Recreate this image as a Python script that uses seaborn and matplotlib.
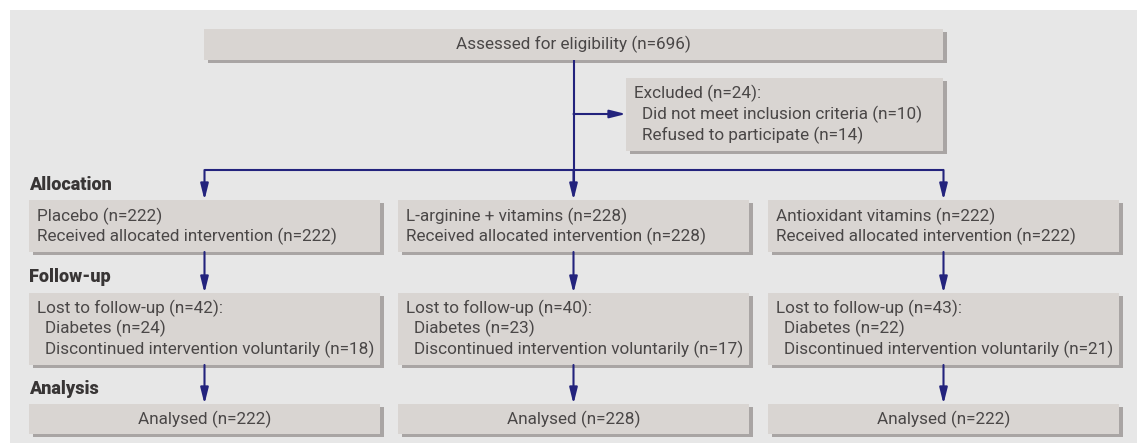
import matplotlib
matplotlib.use("Agg")
import matplotlib.pyplot as plt
import seaborn as sns
from matplotlib.patches import Rectangle

sns.set_theme(style="white")
plt.rcParams['font.family'] = ['Roboto', 'DejaVu Sans']

# data
assessed = 696
excluded = [10, 14]
excluded_reasons = ['Did not meet inclusion criteria', 'Refused to participate']
arms = ['Placebo', 'L-arginine + vitamins', 'Antioxidant vitamins']
allocated = [222, 228, 222]
received = [222, 228, 222]
lost_diabetes = [24, 23, 22]
lost_discontinued = [18, 17, 21]
analysed = [222, 228, 222]
stages = ['Allocation', 'Follow-up', 'Analysis']

# style
bg = '#e7e7e7'
box_fc = '#d9d5d2'
shadow = '#a9a5a4'
line_c = '#23237d'
txt_c = '#4a4747'
lab_c = '#383535'
fs = 12.3

fig = plt.figure(figsize=(11.39, 4.44), dpi=100)
ax = fig.add_axes([0, 0, 1, 1])
ax.set_xlim(0, 1139)
ax.set_ylim(444, 0)
ax.axis('off')

ax.add_patch(Rectangle((10, 10), 1127, 433, fc=bg, ec='none'))


def box(x0, y0, x1, y1):
    ax.add_patch(Rectangle((x0 + 4, y0 + 3), x1 - x0, y1 - y0, fc=shadow, ec='none'))
    ax.add_patch(Rectangle((x0, y0), x1 - x0, y1 - y0, fc=box_fc, ec='none'))


def arrow(x0, y0, x1, y1):
    ax.annotate('', xy=(x1, y1), xytext=(x0, y0),
                arrowprops=dict(arrowstyle='-|>,head_length=0.8,head_width=0.2',
                                color=line_c, lw=1.5, mutation_scale=12,
                                shrinkA=0, shrinkB=0))


centers = [204.5, 573.5, 943.5]
half = 175.5

# top boxes
box(204, 29, 943, 60)
ax.text(573.5, 44, 'Assessed for eligibility (n=%d)' % assessed, ha='center', va='center',
        fontsize=fs, color=txt_c)
box(626, 78, 943, 151)
ax.text(634, 93, 'Excluded (n=%d):' % sum(excluded), va='center', fontsize=fs, color=txt_c)
for i, (r, n) in enumerate(zip(excluded_reasons, excluded)):
    ax.text(642, 114 + 21 * i, '%s (n=%d)' % (r, n), va='center', fontsize=fs, color=txt_c)

# connectors
ax.plot([573.5, 573.5], [60, 188], color=line_c, lw=1.5, solid_capstyle='butt')
arrow(573.5, 114, 626, 114)
ax.plot([centers[0], centers[2]], [170, 170], color=line_c, lw=1.5,
        solid_joinstyle='miter', solid_capstyle='butt')
for c in centers:
    arrow(c, 170, c, 200)
    arrow(c, 252, c, 293)
    arrow(c, 365, c, 404)

# stage labels
for s, y in zip(stages, [185, 277, 389]):
    ax.text(29, y, s, va='center', fontsize=13, fontweight='heavy', color=lab_c)

# arm boxes
for i, c in enumerate(centers):
    x0, x1 = c - half, c + half
    box(x0, 200, x1, 252)
    ax.text(x0 + 8, 216, '%s (n=%d)' % (arms[i], allocated[i]), va='center', fontsize=fs, color=txt_c)
    ax.text(x0 + 8, 236, 'Received allocated intervention (n=%d)' % received[i], va='center',
            fontsize=fs, color=txt_c)

    box(x0, 293, x1, 365)
    ax.text(x0 + 8, 308, 'Lost to follow-up (n=%d):' % (lost_diabetes[i] + lost_discontinued[i]),
            va='center', fontsize=fs, color=txt_c)
    ax.text(x0 + 16, 328, 'Diabetes (n=%d)' % lost_diabetes[i], va='center', fontsize=fs, color=txt_c)
    ax.text(x0 + 16, 349, 'Discontinued intervention voluntarily (n=%d)' % lost_discontinued[i],
            va='center', fontsize=fs, color=txt_c)

    box(x0, 404, x1, 434)
    ax.text(c, 419, 'Analysed (n=%d)' % analysed[i], ha='center', va='center', fontsize=fs, color=txt_c)

fig.savefig('out.png', dpi=100)
